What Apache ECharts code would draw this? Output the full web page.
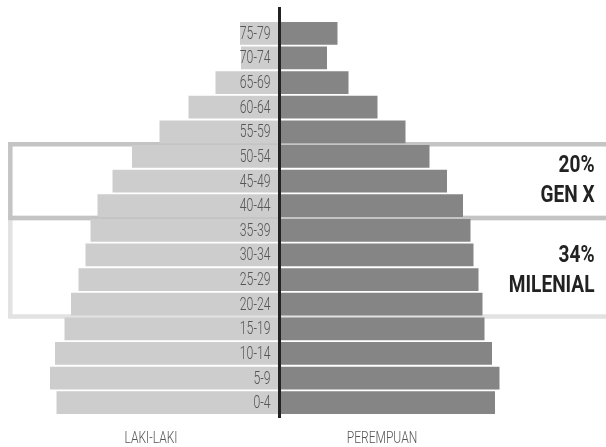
<!DOCTYPE html>
<html>
<head>
<meta charset="utf-8">
<script src="https://cdn.jsdelivr.net/npm/echarts@6/dist/echarts.min.js"></script>
<style>
  html, body { margin: 0; padding: 0; background: #fff; }
  #main { width: 606px; height: 447px; }
</style>
</head>
<body>
<div id="main"></div>
<script>
// age groups, bottom to top
const ages = ['0-4', '5-9', '10-14', '15-19', '20-24', '25-29', '30-34', '35-39',
  '40-44', '45-49', '50-54', '55-59', '60-64', '65-69', '70-74', '75-79']
const male = [223, 229.5, 224.5, 215, 208.5, 201, 194, 189, 182, 167, 147.5, 120, 91, 64, 38.5, 39.5]
const female = [215.5, 220, 212.5, 205, 203, 199, 194, 191, 183.5, 167.5, 150, 126, 98, 69, 47.5, 58]
const groups = [
  { from: '50-54', to: '40-44', pct: '20%', name: 'GEN X', color: '#c4c4c4' },
  { from: '35-39', to: '20-24', pct: '34%', name: 'MILENIAL', color: '#e2e2e2' }
]
const sideLabels = ['LAKI-LAKI', 'PEREMPUAN']

const chart = echarts.init(document.getElementById('main'))

chart.setOption({
  animation: false,
  grid: { left: 29.5, right: 76.5, top: 21, bottom: 32 },
  xAxis: {
    type: 'value', min: -250, max: 250,
    show: false
  },
  yAxis: {
    type: 'category', data: ages,
    axisLine: { show: false }, axisTick: { show: false }, axisLabel: { show: false },
    splitLine: { show: false }
  },
  series: [
    {
      name: 'male', type: 'bar', barGap: '-100%', barCategoryGap: '8%',
      data: male.map(v => -v),
      itemStyle: { color: '#cdcdcd' }
    },
    {
      name: 'female', type: 'bar',
      data: female,
      itemStyle: { color: '#858585' }
    },
    {
      name: 'labels', type: 'custom',
      data: ages.map(a => [0, a]),
      z: 5,
      renderItem: (params, api) => {
        const p = api.coord([0, api.value(1)])
        return {
          type: 'text', x: p[0] - 9, y: p[1] + 1, scaleX: 0.68,
          style: {
            text: ages[params.dataIndex], align: 'right', verticalAlign: 'middle',
            fontFamily: 'Roboto', fontWeight: 300, fontSize: 18, fill: '#555'
          }
        }
      }
    }
  ]
})

// boxes, center line and texts placed from the axes
const zeroX = chart.convertToPixel({ xAxisIndex: 0 }, 0)
const band = (447 - 21 - 32) / ages.length
const graphics = []

groups.forEach((g, i) => {
  const top = chart.convertToPixel({ yAxisIndex: 0 }, g.from) - band / 2
  const bottom = chart.convertToPixel({ yAxisIndex: 0 }, g.to) + band / 2
  const mid = (top + bottom) / 2 + (i === 1 ? 4 : 0)
  graphics.push({
    type: 'rect', z: i === 0 ? 1 : 0,
    shape: { x: 10.3, y: top, width: 640, height: bottom - top },
    style: { fill: null, stroke: g.color, lineWidth: 4.5 }
  })
  graphics.push({
    type: 'text', x: 594.5, y: mid - 15, scaleX: 0.83, z: 10,
    style: { text: g.pct, align: 'right', verticalAlign: 'middle', fontFamily: 'Roboto', fontWeight: 'bold', fontSize: 23, fill: '#222' }
  })
  graphics.push({
    type: 'text', x: 594.5, y: mid + 15, scaleX: 0.83, z: 10,
    style: { text: g.name, align: 'right', verticalAlign: 'middle', fontFamily: 'Roboto', fontWeight: 'bold', fontSize: 23, fill: '#222' }
  })
})

graphics.push({
  type: 'line', z: 10,
  shape: { x1: zeroX, y1: 7, x2: zeroX, y2: 418 },
  style: { stroke: '#222', lineWidth: 3 }
})

;[151, 382].forEach((x, i) => {
  graphics.push({
    type: 'text', x: x, y: 439, scaleX: 0.73, z: 10,
    style: { text: sideLabels[i], align: 'center', verticalAlign: 'middle', fontFamily: 'Roboto', fontWeight: 300, fontSize: 16.5, fill: '#555' }
  })
})

chart.setOption({ graphic: graphics })
</script>
</body>
</html>
